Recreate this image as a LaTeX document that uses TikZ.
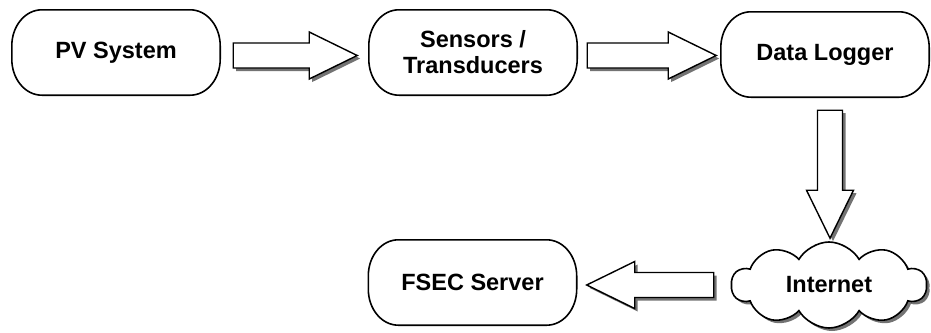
\documentclass[tikz,border=0pt]{standalone}
\usepackage{fontspec}
\setmainfont{Liberation Sans}
\usetikzlibrary{calc,shapes.symbols,backgrounds}

% block arrow: start point, direction angle, total length
\newcommand\blockarrow[3]{%
  \begin{scope}[shift={($(#1)+(3,-3)$)}, rotate=#2]
    \fill[shade] (0,-12.5) -- ({#3-48},-12.5) -- ({#3-48},-23.5) -- (#3,0)
      -- ({#3-48},23.5) -- ({#3-48},12.5) -- (0,12.5) -- cycle;
  \end{scope}
  \begin{scope}[shift={(#1)}, rotate=#2]
    \draw[blk] (0,-12.5) -- ({#3-48},-12.5) -- ({#3-48},-23.5) -- (#3,0)
      -- ({#3-48},23.5) -- ({#3-48},12.5) -- (0,12.5) -- cycle;
  \end{scope}}

% outline with elliptical corners around a named node
\newcommand\ovalpath[1]{%
  ([xshift=30pt]#1.north west) -- ([xshift=-30pt]#1.north east)
  arc[start angle=90, end angle=0, x radius=30pt, y radius=36pt]
  -- ([yshift=36pt]#1.south east)
  arc[start angle=0, end angle=-90, x radius=30pt, y radius=36pt]
  -- ([xshift=30pt]#1.south west)
  arc[start angle=270, end angle=180, x radius=30pt, y radius=36pt]
  -- ([yshift=-36pt]#1.north west)
  arc[start angle=180, end angle=90, x radius=30pt, y radius=36pt] -- cycle}
\newcommand\ovalbox[1]{%
  \begin{scope}[on background layer]
    \fill[shade, shift={(3pt,-3pt)}] \ovalpath{#1};
    \draw[outline] \ovalpath{#1};
  \end{scope}}

\begin{document}
\begin{tikzpicture}[x=1pt, y=1pt,
  shade/.style={fill=black!55},
  outline/.style={draw=black, line width=1.6pt, fill=white},
  blk/.style={draw=black, line width=1.4pt, fill=white, line join=miter},
  lbl/.style={font=\fontsize{23.5}{26}\selectfont\bfseries, align=center},
  box/.style={rectangle, inner sep=0pt, minimum width=208pt, minimum height=85pt, lbl},
  cloudshadow/.style={cloud, cloud puffs=10, cloud puff arc=120, cloud ignores aspect,
    fill=black!55, minimum width=195pt, minimum height=86pt},
  cloudbox/.style={cloud, cloud puffs=10, cloud puff arc=120, cloud ignores aspect,
    draw=black, line width=1.6pt, fill=white, minimum width=195pt, minimum height=86pt, lbl}
]
\useasboundingbox (0,0) rectangle (931,-332);

% process boxes
\node[box] (pv)   at (116,-52.5)  {PV System};
\node[box] (sens) at (473,-52.5)  {Sensors /\\Transducers};
\node[box] (dl)   at (825,-54.5)  {Data Logger};
\node[box] (fsec) at (472.5,-282.5) {FSEC Server};
\ovalbox{pv}
\ovalbox{sens}
\ovalbox{dl}
\ovalbox{fsec}

% network cloud with its shadow
\node[cloudshadow] (inetS) at (832,-288) {};
\node[cloudbox] (inet) at (829,-285) {Internet};

% arrow anchors
\coordinate (a1) at ($(pv.east)+(13,-3)$);
\coordinate (a2) at ($(sens.east)+(10,-3)$);
\coordinate (a3) at ($(dl.south)+(5,-13)$);
\coordinate (a4) at ($(fsec.east)+(137,-2.5)$);

\blockarrow{a1}{0}{124}
\blockarrow{a2}{0}{129}
\blockarrow{a3}{-90}{128}
\blockarrow{a4}{180}{127}
\end{tikzpicture}
\end{document}
